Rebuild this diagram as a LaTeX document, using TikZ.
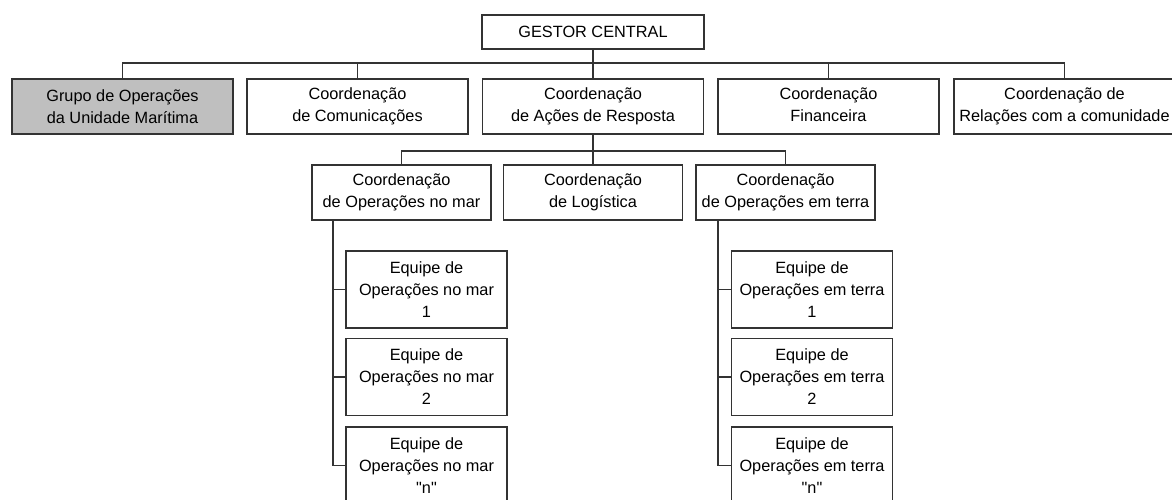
\documentclass[tikz,border=0pt]{standalone}
\usepackage{fontspec}
\setmainfont[Ligatures=TeXOff]{Liberation Sans}
\begin{document}
\begin{tikzpicture}[x=1pt,y=-1pt,
  box/.style={draw=black!80,line width=1.1pt,fill=white,inner sep=0pt,align=center,
    font=\fontsize{16.3}{22}\selectfont},
  toprow/.style={box,minimum width=221pt,minimum height=55pt},
  midrow/.style={box,minimum width=179pt,minimum height=55pt},
  team/.style={box,minimum width=161pt,minimum height=77pt},
  link/.style={draw=black!80,line width=1.1pt}]
\useasboundingbox (0,0) rectangle (1172,500);
% nodes
\node[box,minimum width=222pt,minimum height=34pt] (gestor) at (593,32) {GESTOR CENTRAL};
\node[toprow,fill=black!25] (grupo) at (122.5,106.5) {Grupo de Operações\\da Unidade Marítima};
\node[toprow] (com) at (357.5,106.5) {Coordenação\\de Comunicações};
\node[toprow] (acoes) at (593,106.5) {Coordenação\\de Ações de Resposta};
\node[toprow] (fin) at (828.5,106.5) {Coordenação\\Financeira\vphantom{g}};
\node[toprow] (rel) at (1064.5,106.5) {Coordenação de\\Relações com a comunidade};
\node[midrow] (mar) at (401.5,192.5) {Coordenação\\de Operações no mar};
\node[midrow] (log) at (593,192.5) {Coordenação\\de Logística};
\node[midrow] (terra) at (785.5,192.5) {Coordenação\\de Operações em terra};
\node[team] (em1) at (426.5,289.5) {Equipe de\\Operações no mar\\1};
\node[team] (em2) at (426.5,377) {Equipe de\\Operações no mar\\2};
\node[team] (em3) at (426.5,465.5) {Equipe de\\Operações no mar\\"n"};
\node[team] (et1) at (812,289.5) {Equipe de\\Operações em terra\\1};
\node[team] (et2) at (812,377) {Equipe de\\Operações em terra\\2};
\node[team] (et3) at (812,465.5) {Equipe de\\Operações em terra\\"n"};
% coordinates
\coordinate (bus) at (593,63);
\coordinate (sbus) at (593,151);
\coordinate (mspine) at (333,220);
\coordinate (tspine) at (718,220);
% connectors
\draw[link] (gestor.south) -- (acoes.north);
\draw[link] (grupo.north) |- (bus) -| (rel.north);
\draw[link] (com.north) |- (bus);
\draw[link] (fin.north) |- (bus);
\draw[link] (acoes.south) -- (log.north);
\draw[link] (mar.north) |- (sbus) -| (terra.north);
\draw[link] (mspine) |- (em3.west);
\draw[link] (em1.west) -- (em1.west -| mspine);
\draw[link] (em2.west) -- (em2.west -| mspine);
\draw[link] (tspine) |- (et3.west);
\draw[link] (et1.west) -- (et1.west -| tspine);
\draw[link] (et2.west) -- (et2.west -| tspine);
\end{tikzpicture}
\end{document}
